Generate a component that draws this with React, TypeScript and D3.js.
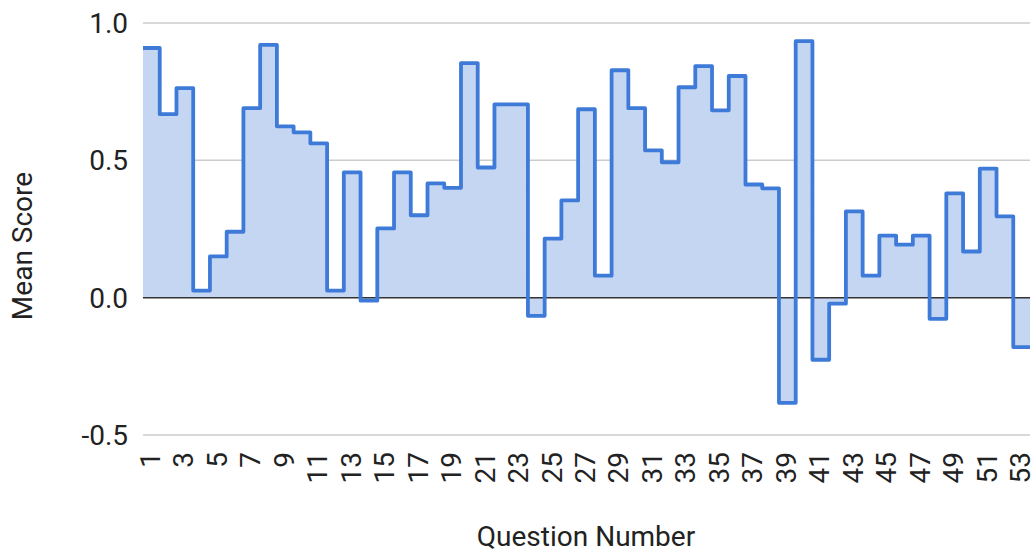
import React from "react";
import * as d3 from "d3";

const questions: number[] = d3.range(1, 54);
const meanScores: number[] = [
  0.909, 0.668, 0.763, 0.026, 0.15, 0.24, 0.69, 0.92, 0.624, 0.602,
  0.562, 0.026, 0.456, -0.011, 0.252, 0.456, 0.3, 0.416, 0.4, 0.854,
  0.474, 0.704, 0.704, -0.066, 0.215, 0.354, 0.686, 0.08, 0.828, 0.69,
  0.536, 0.493, 0.766, 0.843, 0.682, 0.807, 0.412, 0.398, -0.383, 0.934,
  -0.226, -0.022, 0.314, 0.08, 0.226, 0.193, 0.226, -0.077, 0.38, 0.168,
  0.47, 0.296, -0.18,
];
const yTicks: number[] = [-0.5, 0, 0.5, 1.0];
const xTickLabels: number[] = questions.filter((q) => q % 2 === 1);

const W = 1034;
const H = 554;
const left = 143;
const right = 1030;
const top = 23;
const bottom = 435;

export default function App() {
  const x = d3.scaleLinear().domain([0, questions.length]).range([left, right]);
  const y = d3.scaleLinear().domain([-0.5, 1.0]).range([bottom, top]);

  const pts: [number, number][] = meanScores.map((v, i) => [i, v]);
  pts.push([questions.length, meanScores[meanScores.length - 1]]);

  const line = d3
    .line<[number, number]>()
    .x((d) => x(d[0]))
    .y((d) => y(d[1]))
    .curve(d3.curveStepAfter);
  const area = d3
    .area<[number, number]>()
    .x((d) => x(d[0]))
    .y0(y(0))
    .y1((d) => y(d[1]))
    .curve(d3.curveStepAfter);

  const font = "Roboto, 'Noto Sans', sans-serif";
  const fs = 28;

  return (
    <svg
      width={W}
      height={H}
      style={{ position: "absolute", left: 0, top: 0, background: "#fff" }}
      fontFamily={font}
    >
      {yTicks.map((t) => (
        <g key={t}>
          {t !== 0 && (
            <line x1={left} x2={right} y1={y(t)} y2={y(t)} stroke="#cccccc" strokeWidth={1.5} />
          )}
          <text
            x={128}
            y={y(t)}
            dy="0.36em"
            textAnchor="end"
            fontSize={fs}
            fill="#222"
          >
            {t === 0 ? "0.0" : t.toFixed(1)}
          </text>
        </g>
      ))}
      <path d={area(pts) || ""} fill="#c5d6f2" />
      <line x1={left} x2={right} y1={y(0)} y2={y(0)} stroke="#333333" strokeWidth={1.5} />
      <path
        d={line(pts) || ""}
        fill="none"
        stroke="#3e7bd9"
        strokeWidth={3.8}
        strokeLinejoin="round"
      />
      {xTickLabels.map((q) => (
        <text
          key={q}
          transform={`translate(${x(q - 0.5) + 8.5},452) rotate(-90)`}
          textAnchor="end"
          fontSize={fs}
          fill="#222"
        >
          {q}
        </text>
      ))}
      <text
        transform={`translate(32,246) rotate(-90)`}
        textAnchor="middle"
        fontSize={fs}
        fill="#222"
      >
        Mean Score
      </text>
      <text x={586} y={546} textAnchor="middle" fontSize={fs} fill="#222">
        Question Number
      </text>
    </svg>
  );
}
